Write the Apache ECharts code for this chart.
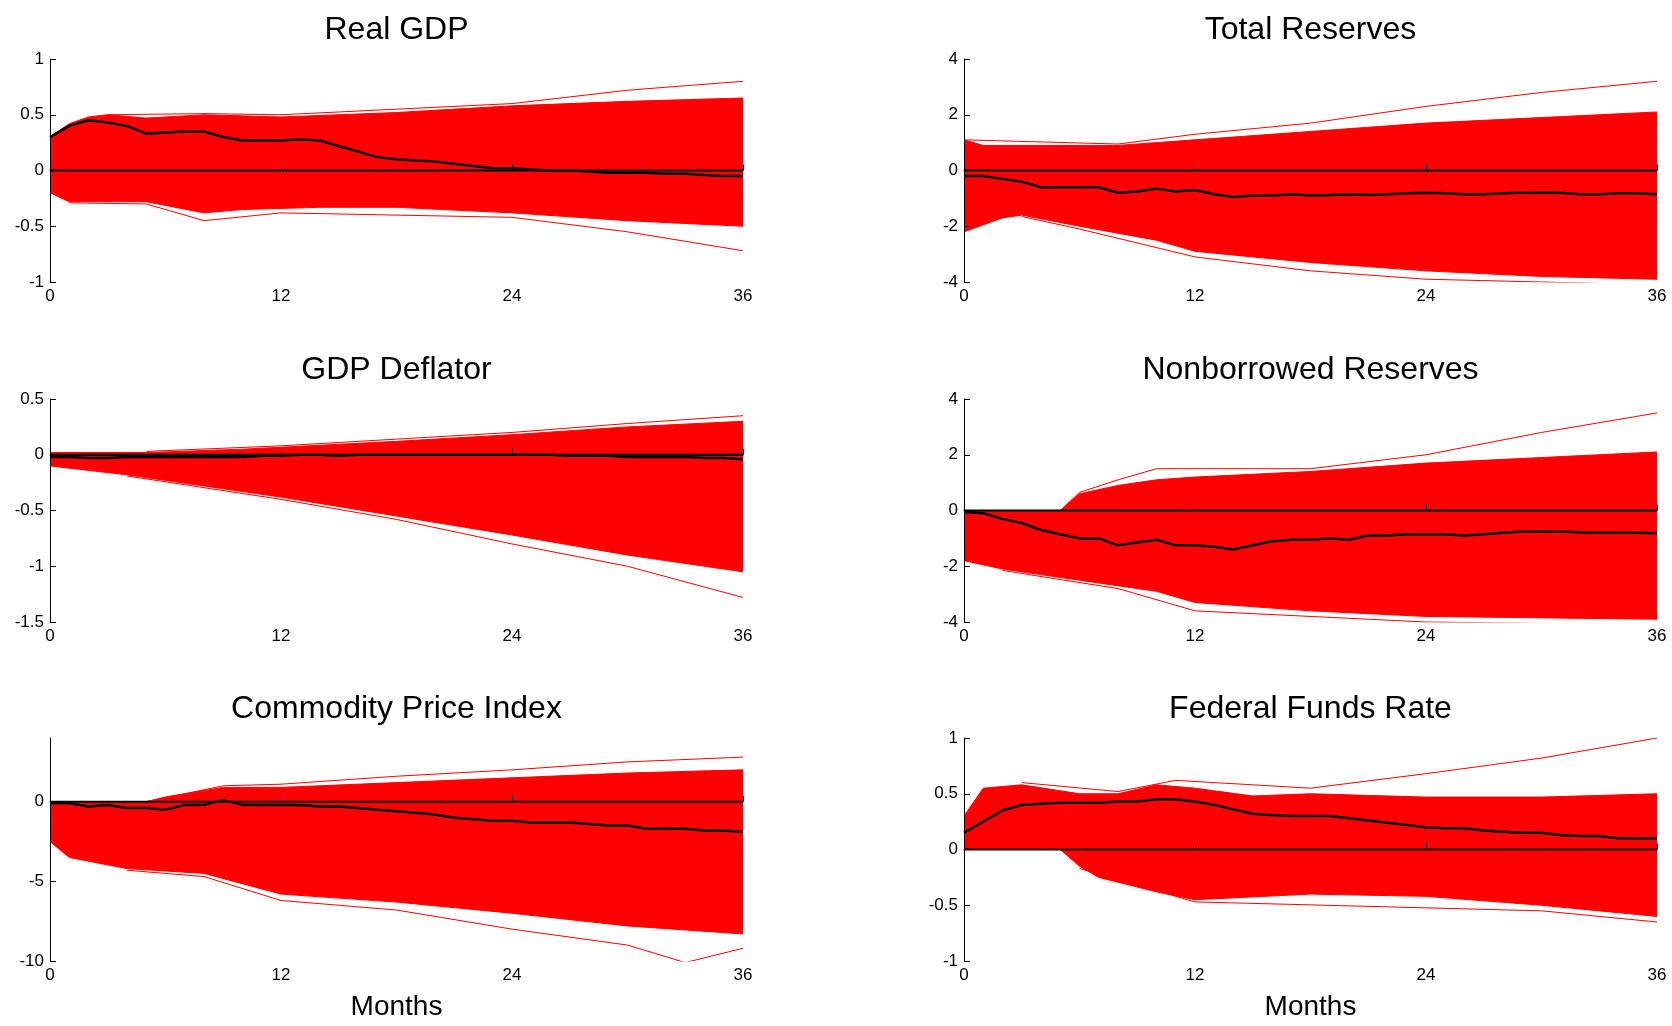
<!DOCTYPE html>
<html>
<head>
<meta charset="utf-8">
<script src="https://cdn.jsdelivr.net/npm/echarts@6/dist/echarts.min.js"></script>
<style>html,body{margin:0;background:#fff}#c{width:1672px;height:1026px}</style>
</head>
<body>
<div id="c"></div>
<script>
// panel titles and y axes
var titles = ['Real GDP', 'Total Reserves', 'GDP Deflator', 'Nonborrowed Reserves', 'Commodity Price Index', 'Federal Funds Rate'];
var yMin = [-1, -4, -1.5, -4, -10, -1];
var yMax = [1, 4, 0.5, 4, 4, 1];
var yStep = [0.5, 2, 0.5, 2, 5, 0.5];

// median responses, months 0..36
var medGDP = [0.3,0.4,0.45,0.43,0.4,0.33,0.34,0.35,0.35,0.3,0.27,0.27,0.27,0.28,0.27,0.22,0.17,0.12,0.1,0.09,0.08,0.06,0.04,0.02,0.02,0.01,0,0,-0.01,-0.02,-0.02,-0.02,-0.03,-0.03,-0.04,-0.05,-0.05];
var medTR = [-0.2,-0.2,-0.3,-0.4,-0.6,-0.6,-0.6,-0.6,-0.8,-0.75,-0.65,-0.75,-0.7,-0.85,-0.95,-0.9,-0.9,-0.85,-0.9,-0.88,-0.85,-0.88,-0.85,-0.82,-0.8,-0.82,-0.85,-0.85,-0.82,-0.8,-0.8,-0.8,-0.85,-0.85,-0.82,-0.82,-0.85];
var medDef = [-0.02,-0.02,-0.03,-0.03,-0.02,-0.02,-0.02,-0.02,-0.02,-0.02,-0.02,-0.01,-0.01,0,0,-0.01,0,0,0,0,0,0,0,0,0,0,0,-0.01,-0.01,-0.01,-0.02,-0.02,-0.02,-0.02,-0.03,-0.03,-0.04];
var medNBR = [-0.05,-0.1,-0.3,-0.45,-0.7,-0.85,-1,-1,-1.25,-1.15,-1.05,-1.25,-1.25,-1.3,-1.4,-1.25,-1.1,-1.05,-1.05,-1,-1.05,-0.9,-0.9,-0.85,-0.85,-0.85,-0.9,-0.85,-0.8,-0.75,-0.75,-0.75,-0.78,-0.8,-0.8,-0.8,-0.82];
var medCPI = [-0.1,-0.1,-0.3,-0.2,-0.4,-0.4,-0.5,-0.2,-0.2,0.1,-0.2,-0.2,-0.2,-0.2,-0.3,-0.3,-0.4,-0.5,-0.6,-0.7,-0.8,-1,-1.1,-1.2,-1.2,-1.3,-1.3,-1.3,-1.4,-1.5,-1.5,-1.7,-1.7,-1.7,-1.8,-1.8,-1.9];
var medFFR = [0.15,0.25,0.35,0.4,0.41,0.42,0.42,0.42,0.43,0.43,0.45,0.45,0.43,0.4,0.36,0.32,0.31,0.3,0.3,0.3,0.28,0.26,0.24,0.22,0.2,0.19,0.19,0.17,0.16,0.15,0.15,0.13,0.12,0.12,0.1,0.1,0.1];

// dense band edges [month, value]
var upGDP = [[0,0.3],[1,0.42],[2,0.48],[3,0.5],[5,0.47],[8,0.5],[12,0.48],[18,0.52],[24,0.58],[30,0.62],[36,0.65]];
var loGDP = [[0,-0.2],[1,-0.28],[5,-0.28],[8,-0.38],[10,-0.35],[14,-0.33],[18,-0.33],[24,-0.38],[30,-0.45],[36,-0.5]];
var upTR = [[0,1.1],[1,0.9],[8,0.9],[12,1.1],[18,1.4],[24,1.7],[30,1.9],[36,2.1]];
var loTR = [[0,-2.2],[2,-1.7],[3,-1.6],[6,-2],[10,-2.5],[12,-2.9],[18,-3.3],[24,-3.6],[30,-3.8],[36,-3.9]];
var upDef = [[0,0.02],[5,0.02],[10,0.05],[18,0.12],[24,0.18],[30,0.25],[36,0.3]];
var loDef = [[0,-0.1],[4,-0.18],[8,-0.28],[12,-0.38],[18,-0.55],[24,-0.72],[30,-0.9],[36,-1.05]];
var upNBR = [[0,0],[5,0],[6,0.6],[8,0.9],[10,1.1],[12,1.2],[18,1.4],[24,1.7],[30,1.9],[36,2.1]];
var loNBR = [[0,-1.8],[2,-2.1],[6,-2.5],[10,-2.9],[12,-3.3],[18,-3.6],[24,-3.8],[36,-3.9]];
var upCPI = [[0,0],[5,0],[6,0.3],[9,0.9],[12,0.9],[18,1.2],[24,1.5],[30,1.8],[36,2]];
var loCPI = [[0,-2.5],[1,-3.5],[4,-4.2],[8,-4.5],[12,-5.8],[18,-6.3],[24,-7],[30,-7.8],[36,-8.3]];
var upFFR = [[0,0.3],[1,0.55],[3,0.58],[6,0.5],[8,0.5],[10,0.58],[12,0.55],[15,0.48],[18,0.5],[24,0.47],[30,0.47],[36,0.5]];
var loFFR = [[0,0],[5,0],[6,-0.15],[7,-0.25],[10,-0.38],[12,-0.45],[18,-0.4],[24,-0.42],[30,-0.5],[36,-0.6]];

// outlying single draws
var outGDP = [[[3,0.5],[8,0.51],[12,0.5],[18,0.55],[24,0.6],[30,0.72],[36,0.8]], [[1,-0.29],[5,-0.3],[8,-0.45],[12,-0.38],[24,-0.42],[30,-0.55],[36,-0.72]]];
var outTR = [[[0,1.1],[8,0.95],[12,1.3],[18,1.7],[24,2.3],[30,2.8],[36,3.2]], [[3,-1.65],[6,-2.1],[12,-3.1],[18,-3.6],[24,-3.9],[30,-4],[36,-4.1]]];
var outDef = [[[5,0.03],[12,0.08],[18,0.14],[24,0.2],[30,0.28],[36,0.35]], [[4,-0.19],[12,-0.4],[18,-0.58],[24,-0.8],[30,-1],[36,-1.28]]];
var outNBR = [[[5,0],[6,0.65],[8,1.1],[10,1.5],[18,1.5],[24,2],[30,2.8],[36,3.5]], [[2,-2.15],[8,-2.8],[12,-3.6],[24,-4],[36,-4.1]]];
var outCPI = [[[5,0],[9,1],[12,1.1],[18,1.6],[24,2],[30,2.5],[36,2.8]], [[4,-4.3],[8,-4.7],[12,-6.2],[18,-6.8],[24,-8],[30,-9],[33,-10.1],[36,-9.2]]];
var outFFR = [[[3,0.6],[8,0.52],[11,0.62],[18,0.55],[24,0.68],[30,0.82],[36,1]], [[6,-0.17],[12,-0.47],[30,-0.55],[36,-0.65]]];

var months = [];
for (var m = 0; m <= 36; m++) months.push(m);

var meds = [medGDP, medTR, medDef, medNBR, medCPI, medFFR];
var ups = [upGDP, upTR, upDef, upNBR, upCPI, upFFR];
var los = [loGDP, loTR, loDef, loNBR, loCPI, loFFR];
var outs = [outGDP, outTR, outDef, outNBR, outCPI, outFFR];

var font = 'Liberation Sans, Arial, sans-serif';
var lefts = [50, 964];
var tops = [59, 399, 738];
var W = 693, H = 223;

var grids = [], xAxes = [], yAxes = [], series = [], texts = [];
for (var i = 0; i < 6; i++) {
    var col = i % 2, row = Math.floor(i / 2);
    grids.push({left: lefts[col], top: tops[row], width: W, height: H});
    xAxes.push({
        type: 'value', gridIndex: i, min: 0, max: 36, interval: 12, z: 5,
        axisLine: {lineStyle: {color: '#000', width: 1}},
        axisTick: {inside: true, length: 6, lineStyle: {color: '#000'}},
        axisLabel: {color: '#000', fontFamily: font, fontSize: 17, margin: 6},
        splitLine: {show: false}
    });
    yAxes.push({
        type: 'value', gridIndex: i, min: yMin[i], max: yMax[i], interval: yStep[i], z: 5,
        axisLine: {show: true, lineStyle: {color: '#000', width: 1}},
        axisTick: {show: true, inside: true, length: 6, lineStyle: {color: '#000'}},
        axisLabel: {color: '#000', fontFamily: font, fontSize: 17, margin: 6, showMaxLabel: i !== 4},
        splitLine: {show: false}
    });
    var base = {type: 'line', xAxisIndex: i, yAxisIndex: i, symbol: 'none', silent: true, animation: false};
    series.push(Object.assign({}, base, {data: ups[i], z: 1, lineStyle: {color: '#f00', width: 1},
        areaStyle: {color: '#f00', opacity: 1, origin: 'start'}}));
    series.push(Object.assign({}, base, {data: los[i], z: 2, lineStyle: {color: '#f00', width: 1},
        areaStyle: {color: '#fff', opacity: 1, origin: 'start'}}));
    outs[i].forEach(function (o) {
        series.push(Object.assign({}, base, {data: o, z: 3, lineStyle: {color: '#f00', width: 1}}));
    });
    series.push(Object.assign({}, base, {data: months.map(function (mm) { return [mm, 0]; }), z: 4,
        lineStyle: {color: '#000', width: 2}}));
    series.push(Object.assign({}, base, {data: months.map(function (mm, k) { return [mm, meds[i][k]]; }), z: 4,
        lineStyle: {color: '#000', width: 2.5}}));
    texts.push({type: 'text', x: lefts[col] + W / 2, y: tops[row] - 45,
        style: {text: titles[i], font: '32px ' + font, fill: '#000', align: 'center', textAlign: 'center'}});
    if (row === 2) {
        texts.push({type: 'text', x: lefts[col] + W / 2, y: 993,
            style: {text: 'Months', font: '28px ' + font, fill: '#000', align: 'center', textAlign: 'center'}});
    }
}

var chart = echarts.init(document.getElementById('c'));
chart.setOption({
    animation: false,
    grid: grids, xAxis: xAxes, yAxis: yAxes, series: series,
    graphic: texts
});
</script>
</body>
</html>
